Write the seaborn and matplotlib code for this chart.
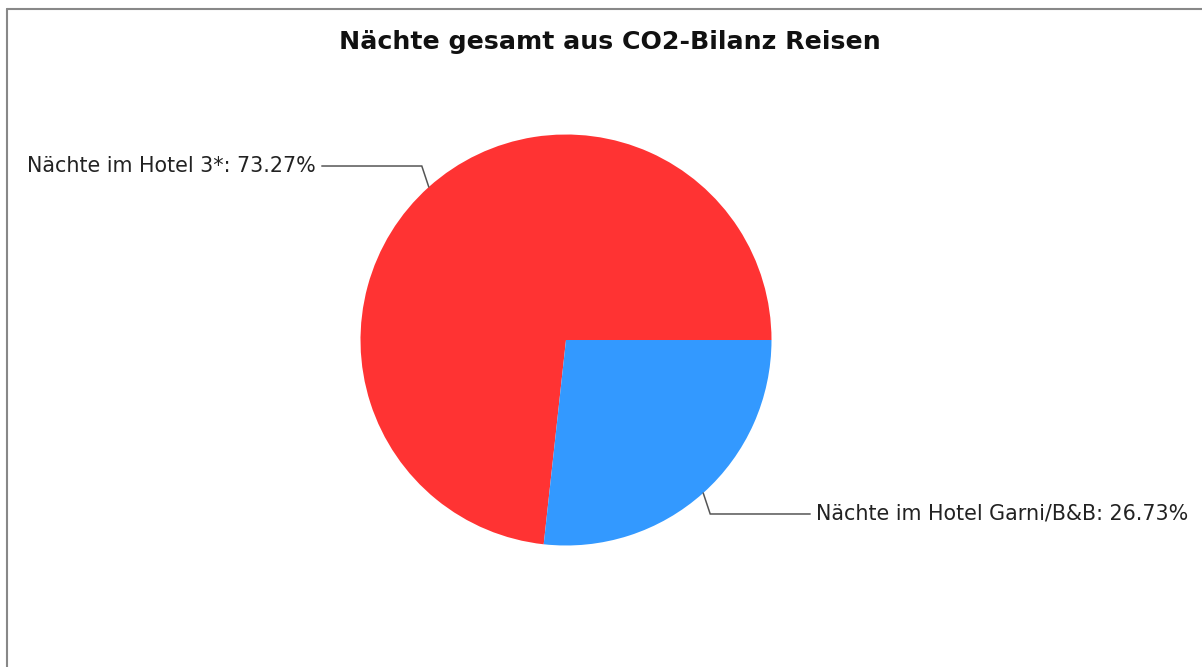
import matplotlib
matplotlib.use("Agg")
import matplotlib.pyplot as plt
import seaborn as sns
import numpy as np

# Share of nights by accommodation type
categories = ["Nächte im Hotel 3*", "Nächte im Hotel Garni/B&B"]
shares = [73.27, 26.73]
colors = ["#FF3333", "#3399FF"]
title = "Nächte gesamt aus CO2-Bilanz Reisen"

sns.set_theme(style="white")
plt.rcParams["font.family"] = ["DejaVu Sans"]

W, H = 1202, 667
fig = plt.figure(figsize=(W / 100, H / 100), dpi=100)
fig.patch.set_facecolor("white")

# Axes in pixel units (y measured upward)
ax = fig.add_axes([0, 0, 1, 1])
ax.set_aspect("equal")

cx, cy, r = 566, H - 340, 205.5
wedges, _ = ax.pie(shares, colors=colors, startangle=0, counterclock=True,
                   center=(cx, cy), radius=r, frame=True,
                   wedgeprops=dict(linewidth=0))
ax.set_xlim(0, W)
ax.set_ylim(0, H)
ax.axis("off")

# Leader lines and labels at each slice's mid-angle
for w, cat, val in zip(wedges, categories, shares):
    mid = np.deg2rad((w.theta1 + w.theta2) / 2)
    ex, ey = cx + r * np.cos(mid), cy + r * np.sin(mid)
    side = 1 if np.cos(mid) > 0 else -1
    kx, ky = ex + 7 * side, ey + 21 * np.sign(np.sin(mid))
    hx = kx + 100 * side
    ax.plot([ex, kx, hx], [ey, ky, ky], color="#555555", lw=1.1,
            solid_joinstyle="miter")
    ax.text(hx + 6 * side, ky, f"{cat}: {val:.2f}%",
            ha="left" if side > 0 else "right", va="center",
            fontsize=14.9, color="#222222")

fig.text(610 / W, 1 - 42 / H, title, ha="center", va="center",
         fontsize=18.2, fontweight="bold", color="#111111")

# Frame edges along the top and left
ax.plot([7, W], [H - 9, H - 9], color="#888888", lw=1.5, clip_on=False)
ax.plot([7, 7], [0, H - 9], color="#888888", lw=1.5, clip_on=False)

fig.savefig("out.png", dpi=100, facecolor="white")
